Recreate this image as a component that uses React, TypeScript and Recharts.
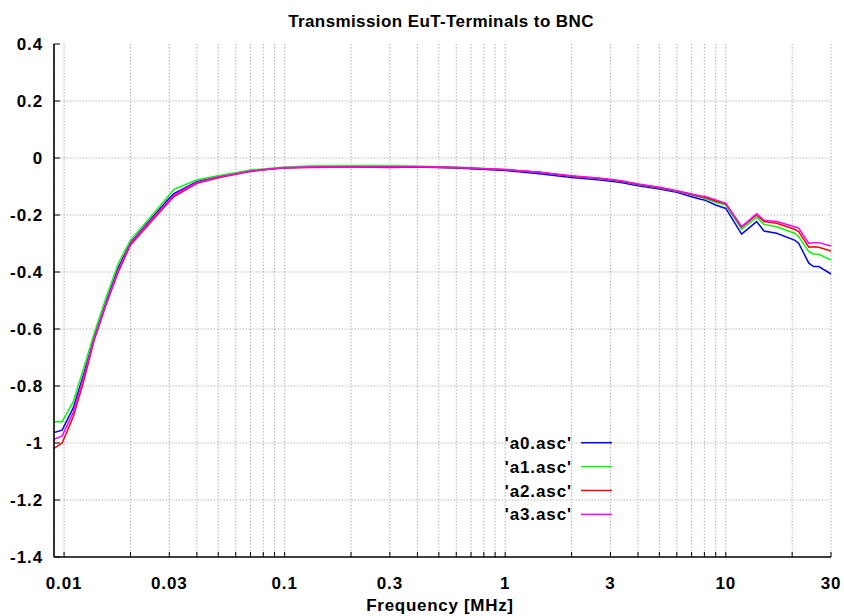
import React from "react";
import { LineChart, Line, XAxis, YAxis, CartesianGrid, ReferenceLine } from "recharts";

// frequency points in MHz
const FREQ = [
  0.009, 0.0098, 0.011, 0.0122, 0.0137, 0.0155, 0.0176, 0.02, 0.0245, 0.03, 0.0315, 0.04, 0.05, 0.06, 0.07,
  0.09, 0.1, 0.13, 0.2, 0.3, 0.4, 0.6, 1, 1.43, 2, 2.7, 3.3, 4, 5, 6, 7, 7.7, 8, 9, 10, 11.8, 13.8, 14.9, 17,
  20.5, 21.4, 23.8, 25, 26.4, 30,
];

const A0 = [
  -0.963, -0.955, -0.877, -0.765, -0.63, -0.505, -0.385, -0.297, -0.218, -0.14, -0.125, -0.083, -0.066, -0.055,
  -0.045, -0.037, -0.034, -0.032, -0.031, -0.033, -0.032, -0.035, -0.044, -0.055, -0.068, -0.077, -0.085, -0.097,
  -0.109, -0.12, -0.136, -0.145, -0.147, -0.165, -0.177, -0.267, -0.223, -0.256, -0.264, -0.288, -0.299, -0.369,
  -0.381, -0.381, -0.407,
];

const A1 = [
  -0.925, -0.925, -0.855, -0.744, -0.614, -0.49, -0.37, -0.288, -0.21, -0.13, -0.11, -0.077, -0.062, -0.052,
  -0.042, -0.035, -0.032, -0.028, -0.027, -0.027, -0.029, -0.032, -0.04, -0.05, -0.064, -0.073, -0.081, -0.093,
  -0.105, -0.117, -0.13, -0.138, -0.141, -0.155, -0.165, -0.25, -0.208, -0.233, -0.241, -0.264, -0.276, -0.329,
  -0.337, -0.338, -0.358,
];

const A2 = [
  -1.019, -1.0, -0.908, -0.79, -0.639, -0.515, -0.4, -0.305, -0.228, -0.153, -0.135, -0.089, -0.069, -0.057,
  -0.047, -0.038, -0.035, -0.033, -0.032, -0.032, -0.031, -0.034, -0.041, -0.05, -0.064, -0.072, -0.081, -0.092,
  -0.104, -0.116, -0.128, -0.136, -0.138, -0.151, -0.161, -0.243, -0.2, -0.223, -0.229, -0.25, -0.258, -0.313,
  -0.311, -0.313, -0.326,
];

const A3 = [
  -0.987, -0.975, -0.893, -0.775, -0.632, -0.51, -0.392, -0.3, -0.222, -0.148, -0.13, -0.086, -0.067, -0.056,
  -0.046, -0.037, -0.034, -0.032, -0.031, -0.031, -0.03, -0.033, -0.04, -0.05, -0.062, -0.071, -0.079, -0.091,
  -0.103, -0.115, -0.126, -0.133, -0.134, -0.147, -0.159, -0.241, -0.196, -0.218, -0.223, -0.241, -0.246, -0.3,
  -0.297, -0.297, -0.309,
];

const SERIES = [
  { key: "a0", name: "'a0.asc'", color: "#0000ff", values: A0 },
  { key: "a1", name: "'a1.asc'", color: "#00ff00", values: A1 },
  { key: "a2", name: "'a2.asc'", color: "#ff0000", values: A2 },
  { key: "a3", name: "'a3.asc'", color: "#ff00ff", values: A3 },
];

const X_TICKS = [
  0.01, 0.02, 0.03, 0.04, 0.05, 0.06, 0.07, 0.08, 0.09,
  0.1, 0.2, 0.3, 0.4, 0.5, 0.6, 0.7, 0.8, 0.9,
  1, 2, 3, 4, 5, 6, 7, 8, 9,
  10, 20, 30,
];
const X_LABELS = [0.01, 0.03, 0.1, 0.3, 1, 3, 10, 30];
const Y_TICKS = [-1.4, -1.2, -1, -0.8, -0.6, -0.4, -0.2, 0, 0.2, 0.4];

const data = FREQ.map((f, i) => ({
  f,
  a0: A0[i],
  a1: A1[i],
  a2: A2[i],
  a3: A3[i],
}));

const W = 844;
const H = 616;
const FONT = "'Liberation Sans', Arial, sans-serif";
const tickStyle = { fontFamily: FONT, fontSize: 17, fontWeight: 700, fill: "#000", letterSpacing: 0.9 };
const axisLine = { stroke: "#000", strokeWidth: 1.6 };
const tickLine = { stroke: "#000", strokeWidth: 1 };
const GRID = "#a8a8a8";
const GRID_DASH = "1.2 2";

const fmtX = (v: number) => (X_LABELS.some((l) => Math.abs(l - v) < 1e-9) ? String(v) : "");
const fmtY = (v: number) => String(Math.round(v * 10) / 10);

export default function App() {
  return (
    <div style={{ position: "absolute", left: 0, top: 0, width: W, height: H, background: "#fff" }}>
      <LineChart width={W} height={H} data={data} margin={{ top: 44, right: 13, bottom: 0, left: 0 }}>
        <CartesianGrid
          xAxisId="bottom"
          yAxisId="left"
          horizontal={false}
          stroke={GRID}
          strokeWidth={1.1}
          strokeDasharray={GRID_DASH}
        />
        {Y_TICKS.slice(1, -1).map((v) => (
          <ReferenceLine
            key={v}
            y={v}
            xAxisId="bottom"
            yAxisId="left"
            stroke={GRID}
            strokeWidth={1.1}
            strokeDasharray={GRID_DASH}
          />
        ))}
        <XAxis
          xAxisId="bottom"
          dataKey="f"
          type="number"
          scale="log"
          domain={[0.009, 30]}
          allowDataOverflow
          ticks={X_TICKS}
          interval={0}
          tickFormatter={fmtX}
          tick={tickStyle}
          tickSize={-5}
          tickMargin={25}
          axisLine={axisLine}
          tickLine={tickLine}
          height={59}
        />
        <XAxis
          xAxisId="top"
          orientation="top"
          dataKey="f"
          type="number"
          scale="log"
          domain={[0.009, 30]}
          allowDataOverflow
          ticks={X_TICKS}
          interval={0}
          tick={false}
          tickSize={-5}
          axisLine={axisLine}
          tickLine={tickLine}
          height={0}
        />
        <YAxis
          yAxisId="left"
          type="number"
          domain={[-1.4, 0.4]}
          ticks={Y_TICKS}
          interval={0}
          tickFormatter={fmtY}
          tick={tickStyle}
          tickSize={-6}
          tickMargin={17}
          axisLine={axisLine}
          tickLine={tickLine}
          width={54}
        />
        <YAxis
          yAxisId="right"
          orientation="right"
          type="number"
          domain={[-1.4, 0.4]}
          ticks={Y_TICKS}
          interval={0}
          tick={false}
          tickSize={-6}
          axisLine={axisLine}
          tickLine={tickLine}
          width={0}
        />
        {SERIES.map((s) => (
          <Line
            key={s.key}
            xAxisId="bottom"
            yAxisId="left"
            type="linear"
            dataKey={s.key}
            name={s.name}
            stroke={s.color}
            strokeWidth={1.5}
            dot={false}
            activeDot={false}
            isAnimationActive={false}
          />
        ))}
      </LineChart>
      <svg
        width={W}
        height={H}
        style={{ position: "absolute", left: 0, top: 0, pointerEvents: "none" }}
      >
        <text
          x={441}
          y={27}
          textAnchor="middle"
          style={{ fontFamily: FONT, fontSize: 17, fontWeight: 700, letterSpacing: 0.4 }}
        >
          Transmission EuT-Terminals to BNC
        </text>
        <text
          x={440}
          y={611}
          textAnchor="middle"
          style={{ fontFamily: FONT, fontSize: 17, fontWeight: 700, letterSpacing: 0.7 }}
        >
          Frequency [MHz]
        </text>
        {SERIES.map((s, i) => {
          const cy = 442.7 + i * 23.9;
          return (
            <g key={s.key}>
              <text
                x={572}
                y={cy + 6}
                textAnchor="end"
                style={{ fontFamily: FONT, fontSize: 17, fontWeight: 700, letterSpacing: 0.9 }}
              >
                {s.name}
              </text>
              <line x1={581} x2={612} y1={cy} y2={cy} stroke={s.color} strokeWidth={1.5} />
            </g>
          );
        })}
      </svg>
    </div>
  );
}
